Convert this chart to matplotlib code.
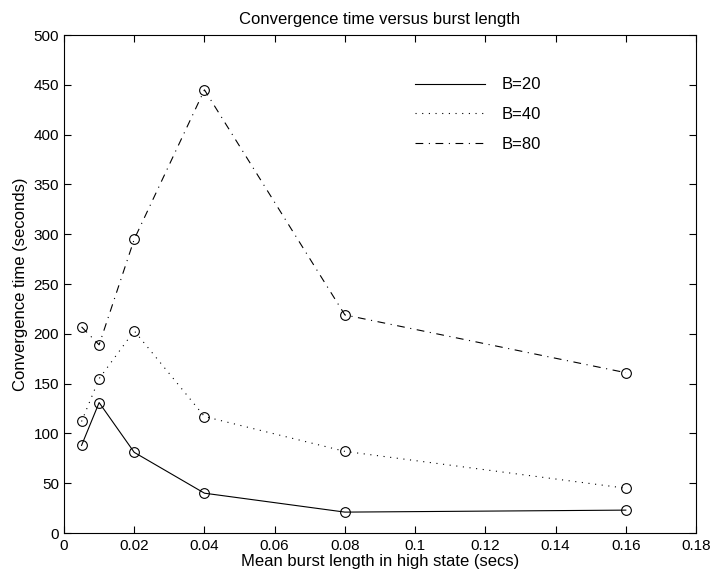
import numpy as np
import matplotlib.pyplot as plt

plt.rcParams['font.family'] = ['Liberation Sans', 'DejaVu Sans']
plt.rcParams['font.size'] = 12

burst = [0.005, 0.01, 0.02, 0.04, 0.08, 0.16]
b20 = [88, 131, 81, 40, 21, 23]
b40 = [112, 155, 203, 117, 82, 45]
b80 = [207, 189, 295, 445, 219, 161]

fig = plt.figure(figsize=(7.16, 5.79), dpi=100)
ax = fig.add_axes([0.0894, 0.0794, 0.8827, 0.860])

mk = dict(marker='o', mfc='none', mec='k', ms=7, mew=0.8, color='k', lw=0.8)
ax.plot(burst, b20, '-', label='B=20', **mk)
ax.plot(burst, b40, linestyle=(0, (1, 5)), label='B=40', **mk)
ax.plot(burst, b80, linestyle=(0, (7, 5, 1, 5)), label='B=80', **mk)

ax.set_xlim(0, 0.18)
ax.set_ylim(0, 500)
ax.set_xticks(np.arange(0, 0.181, 0.02))
ax.set_xticklabels(['0', '0.02', '0.04', '0.06', '0.08', '0.1', '0.12', '0.14', '0.16', '0.18'])
ax.set_yticks(np.arange(0, 501, 50))
ax.tick_params(direction='in', top=True, right=True, length=5, labelsize=11)
ax.tick_params(axis='x', pad=4)
ax.tick_params(axis='y', pad=3.5)
ax.set_xlabel('Mean burst length in high state (secs)', labelpad=1)
ax.set_ylabel('Convergence time (seconds)', labelpad=4)
ax.set_title('Convergence time versus burst length', fontsize=12, pad=8)

leg = ax.legend(loc='upper left', bbox_to_anchor=(0.532, 0.945), frameon=False,
                handlelength=4.2, handletextpad=0.98, labelspacing=0.89)
for h in leg.legend_handles:
    h.set_marker('')

fig.savefig('out.png', dpi=100)
